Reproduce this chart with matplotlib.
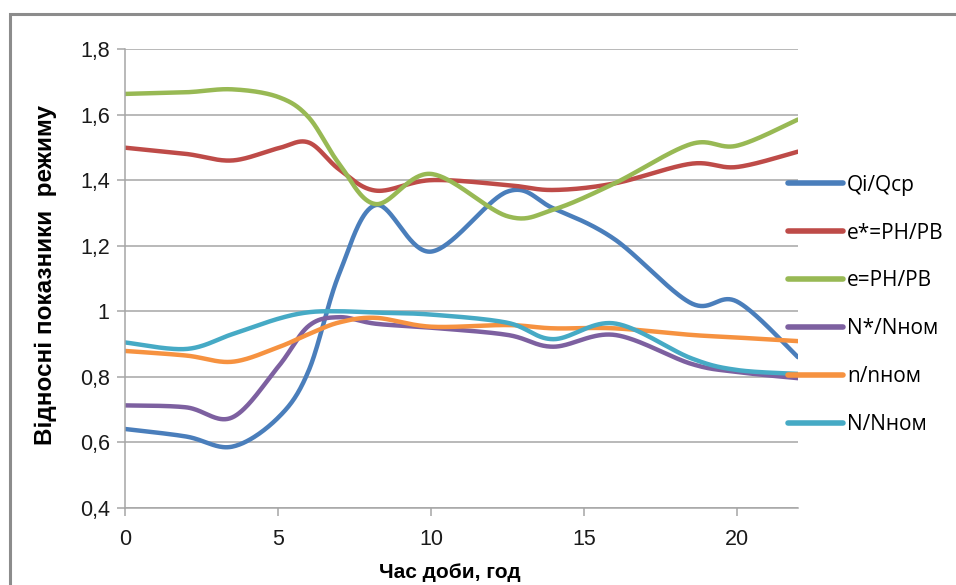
import numpy as np
import matplotlib
matplotlib.use("Agg")
import matplotlib.pyplot as plt
from matplotlib.patches import Rectangle
from matplotlib.ticker import FuncFormatter

hours = [0, 2, 3.5, 5, 6, 7, 8.2, 10, 12.5, 14, 16, 18.5, 20, 22]
qi_qcp = [0.641, 0.618, 0.587, 0.675, 0.818, 1.114, 1.324, 1.182, 1.365, 1.314, 1.22, 1.025, 1.03, 0.86]
e_star = [1.499, 1.48, 1.46, 1.497, 1.515, 1.433, 1.368, 1.40, 1.385, 1.370, 1.39, 1.45, 1.44, 1.487]
e_val = [1.663, 1.668, 1.677, 1.654, 1.592, 1.45, 1.327, 1.419, 1.29, 1.31, 1.39, 1.51, 1.505, 1.585]
n_star = [0.713, 0.707, 0.676, 0.83, 0.955, 0.982, 0.962, 0.95, 0.928, 0.892, 0.928, 0.84, 0.815, 0.796]
n_rel = [0.879, 0.865, 0.846, 0.89, 0.93, 0.966, 0.98, 0.953, 0.958, 0.948, 0.948, 0.928, 0.92, 0.909]
N_rel = [0.905, 0.885, 0.93, 0.977, 0.997, 1.0, 0.996, 0.99, 0.965, 0.915, 0.963, 0.857, 0.821, 0.809]

labels = ["Qi/Qcp", "e*=PH/PB", "e=PH/PB", "N*/Nном", "n/nном", "N/Nном"]
colors = ["#4A7EBB", "#BE4B48", "#98B954", "#7D60A0", "#F69240", "#46AAC5"]
series = [qi_qcp, e_star, e_val, n_star, n_rel, N_rel]

x_ticks = [0, 5, 10, 15, 20]
y_ticks = [0.4, 0.6, 0.8, 1.0, 1.2, 1.4, 1.6, 1.8]


def smooth(xs, ys, n=40):
    P = np.column_stack([xs, ys]).astype(float)
    P = np.vstack([P[0], P, P[-1]])
    out = []
    t = np.linspace(0, 1, n)[:, None]
    for i in range(1, len(P) - 2):
        p0, p1, p2, p3 = P[i - 1], P[i], P[i + 1], P[i + 2]
        c1 = p1 + (p2 - p0) / 6.0
        c2 = p2 - (p3 - p1) / 6.0
        seg = ((1 - t) ** 3) * p1 + 3 * ((1 - t) ** 2) * t * c1 + 3 * (1 - t) * t ** 2 * c2 + t ** 3 * p2
        out.append(seg if i == 1 else seg[1:])
    S = np.vstack(out)
    return S[:, 0], S[:, 1]


fig = plt.figure(figsize=(9.56, 5.85), dpi=100)
fig.patches.append(Rectangle((10 / 956, -0.1), 1.2, 1 - 14 / 585 + 0.1, transform=fig.transFigure,
                             fill=False, edgecolor="#8C8C8C", linewidth=2.2))
ax = fig.add_axes([125 / 956, 1 - 508 / 585, (798 - 125) / 956, (508 - 49) / 585])

for ys, c, lab in zip(series, colors, labels):
    sx, sy = smooth(hours, ys)
    ax.plot(sx, sy, color=c, lw=3.2, label=lab, solid_capstyle="round")

ax.set_xlim(0, 22)
ax.set_ylim(0.4, 1.8)
ax.set_xticks(x_ticks)
ax.set_yticks(y_ticks)
ax.yaxis.set_major_formatter(FuncFormatter(lambda v, p: ("%g" % round(v, 1)).replace(".", ",")))
ax.grid(axis="y", color="#A6A6A6", lw=1.1)
ax.set_axisbelow(True)
for s in ["top", "right"]:
    ax.spines[s].set_visible(False)
for s in ["left", "bottom"]:
    ax.spines[s].set_color("#A6A6A6")
    ax.spines[s].set_linewidth(1.1)
ax.tick_params(axis="both", colors="#A6A6A6", length=6, width=1.1, labelcolor="#1a1a1a")
ax.tick_params(axis="y", pad=5)
ax.tick_params(axis="x", pad=9)
tickfont = ["Liberation Sans", "DejaVu Sans"]
for lbl in ax.get_xticklabels() + ax.get_yticklabels():
    lbl.set_fontfamily(tickfont)
    lbl.set_fontsize(15.5)

fig.text(46 / 956, 1 - 275 / 585, "Відносні показники  режиму", rotation=90, ha="center", va="center",
         fontsize=17.5, fontweight="bold", family=["Liberation Sans", "DejaVu Sans"])
fig.text(450 / 956, 1 - 573 / 585, "Час доби, год", ha="center", va="center",
         fontsize=15, fontweight="bold", family=tickfont)

leg = fig.legend(loc="upper left", bbox_to_anchor=(769 / 956, 1 - 156 / 585), frameon=False,
                 handlelength=2.65, handletextpad=0.2, labelspacing=1.29,
                 prop={"family": ["Open Sans", "DejaVu Sans"], "size": 15})
for h in leg.get_lines():
    h.set_linewidth(4)

fig.savefig("out.png", dpi=100)
